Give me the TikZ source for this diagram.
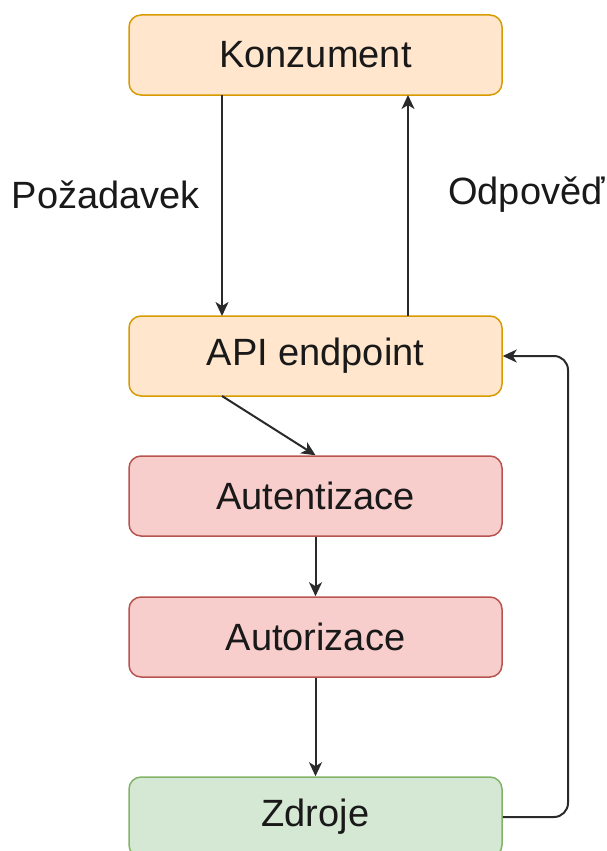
\documentclass[tikz,border=0pt]{standalone}
\usepackage{fontspec}
\setmainfont{Liberation Sans}
\usetikzlibrary{arrows.meta}
\definecolor{ofill}{HTML}{FFE6CC}\definecolor{odraw}{HTML}{D79B00}
\definecolor{rfill}{HTML}{F8CECC}\definecolor{rdraw}{HTML}{B85450}
\definecolor{gfill}{HTML}{D5E8D4}\definecolor{gdraw}{HTML}{82B366}
\definecolor{lgray}{HTML}{2A2A2A}
\tikzset{
  box/.style={rounded corners=12pt, line width=1.5pt, minimum width=373pt, minimum height=80pt, inner sep=0pt, font=\fontsize{38}{44}\selectfont, text=black!90},
  obox/.style={box, fill=ofill, draw=odraw},
  rbox/.style={box, fill=rfill, draw=rdraw},
  gbox/.style={box, fill=gfill, draw=gdraw},
  conn/.style={line width=2pt, draw=lgray, -{Stealth[length=14pt,width=13pt,inset=4pt]}},
  lbl/.style={font=\fontsize{38}{44}\selectfont, text=black!90, inner sep=0pt}
}
\begin{document}
\begin{tikzpicture}[x=1pt,y=-1pt]
\useasboundingbox (0,0) rectangle (606,851);
\clip (0,0) rectangle (606,851);
\node[obox] (kon) at (315.5,55) {Konzument};
\node[obox] (api) at (315.5,356) {API endpoint};
\node[rbox] (aut) at (315.5,496) {Autentizace};
\node[rbox] (azr) at (315.5,637) {Autorizace};
\node[gbox] (zdr) at (315.5,817) {Zdroje};
\node[lbl] (poz) at (106,195) {Požadavek};
\node[lbl, anchor=west] (odp) at (448,195) {Odpověď};
\coordinate (k1) at (222,95);
\coordinate (a1) at (222,316);
\coordinate (k2) at (408,95);
\coordinate (a2) at (408,316);
\coordinate (a3) at (222,396);
\draw[conn] (k1) -- (a1);
\draw[conn] (a2) -- (k2);
\draw[conn] (a3) -- (aut.north);
\draw[conn] (aut.south) -- (azr.north);
\draw[conn] (azr.south) -- (zdr.north);
\draw[conn, rounded corners=14pt] (zdr.east) -- (568,817) -- (568,356) -- (api.east);
\end{tikzpicture}
\end{document}
